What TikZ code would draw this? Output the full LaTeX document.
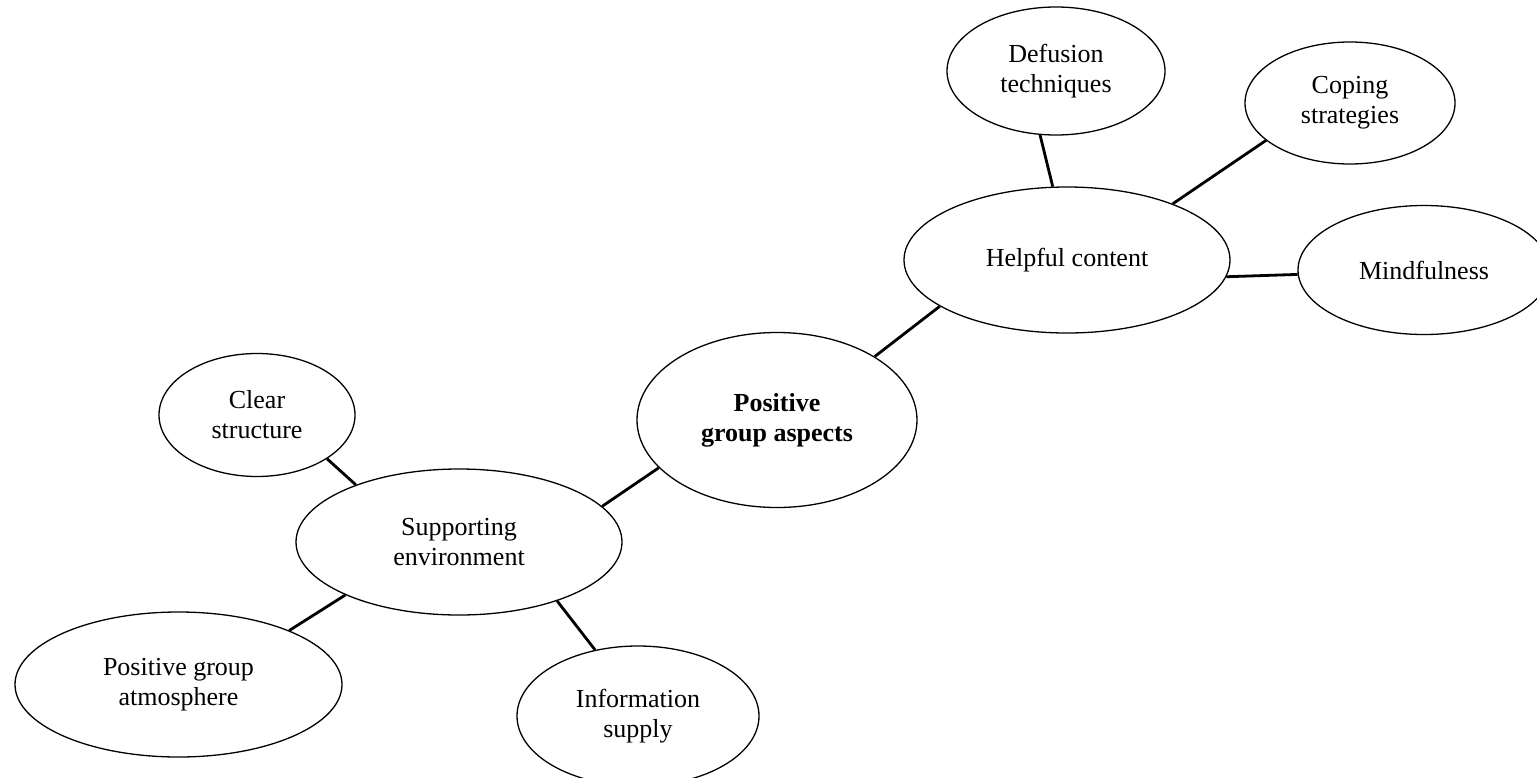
\documentclass[tikz,border=0pt]{standalone}
\usepackage{fontspec}
\setmainfont{Liberation Serif}
\usetikzlibrary{shapes.geometric}
\begin{document}
\begin{tikzpicture}[x=1pt,y=-1pt,
  bub/.style={draw, ellipse, line width=1.3pt, inner sep=0pt, align=center,
              font=\fontsize{26}{30}\selectfont},
  link/.style={line width=2.8pt}]
\useasboundingbox (0,0) rectangle (1537,777);
\clip (0,0) rectangle (1537,777);
\node[bub, minimum width=218pt, minimum height=128pt] (def)  at (1056,71)  {Defusion\\techniques};
\node[bub, minimum width=210pt, minimum height=122pt] (cop)  at (1350,103) {Coping\\strategies};
\node[bub, minimum width=326pt, minimum height=146pt] (help) at (1067,260) {Helpful content};
\node[bub, minimum width=252pt, minimum height=129pt] (mind) at (1424,270) {Mindfulness};
\node[bub, minimum width=280pt, minimum height=175pt, font=\fontsize{26}{30}\selectfont\bfseries] (pos) at (777,420) {Positive\\group aspects};
\node[bub, minimum width=196pt, minimum height=123pt] (clr)  at (257,415)  {Clear\\structure};
\node[bub, minimum width=326pt, minimum height=146pt] (sup)  at (459,542)  {Supporting\\environment};
\node[bub, minimum width=327pt, minimum height=145pt] (atm)  at (178.5,684.5)  {Positive group\\atmosphere};
\node[bub, minimum width=242pt, minimum height=140pt] (inf)  at (638,716)  {Information\\supply};

\draw[link] (def.256) -- (help.101);
\draw[link] (cop.204) -- (help.28);
\draw[link] (help.354.4) -- (mind.182.7);
\draw[link] (help.200.5) -- (pos.33.4);
\draw[link] (pos.202.3) -- (sup.14.5);
\draw[link] (clr.328.6) -- (sup.151.5);
\draw[link] (sup.205) -- (atm.26.8);
\draw[link] (sup.329.3) -- (inf.123.7);
\end{tikzpicture}
\end{document}
